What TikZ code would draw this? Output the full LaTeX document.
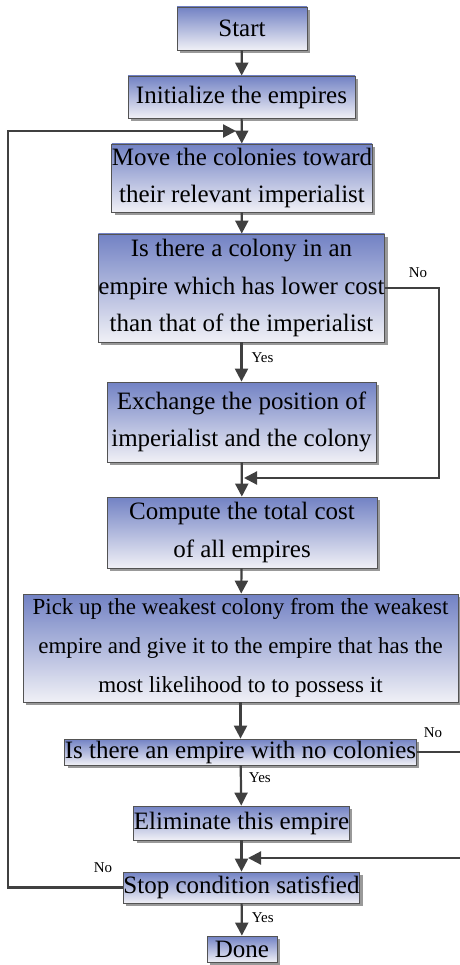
\documentclass[tikz,border=0pt]{standalone}
\usepackage{fontspec}
\setmainfont{Liberation Serif}
\usetikzlibrary{arrows.meta,shadows}
\definecolor{boxtop}{HTML}{7282C4}
\definecolor{boxbot}{HTML}{F0F0F6}
\definecolor{linegray}{HTML}{404040}
\begin{document}
\begin{tikzpicture}[x=1pt,y=-1pt,
  stepbox/.style={draw=linegray!90, line width=0.8pt, top color=boxtop, bottom color=boxbot,
    drop shadow={shadow xshift=3pt, shadow yshift=-3pt, fill=black!40, opacity=1},
    align=center, inner sep=0pt, font={\fontsize{25}{37.5}\selectfont}},
  arr/.style={draw=linegray, line width=2.2pt, -{Triangle[length=13pt,width=13pt]}},
  lbl/.style={font={\fontsize{15}{18}\selectfont}, inner sep=1pt}]
\useasboundingbox (0,0) rectangle (459,965);
%\fill [gray!15] (0,0) rectangle (459,965);
\node[stepbox, minimum width=130, minimum height=43] (start) at (242,28.5) {Start};
\node[stepbox, minimum width=227, minimum height=42] (init) at (241.5,97) {Initialize the empires};
\node[stepbox, minimum width=254, minimum height=68] (move) at (242,178) {Move the colonies toward\\their relevant imperialist};
\node[stepbox, minimum width=269, minimum height=108] (colony) at (241.5,288) {Is there a colony in an\\empire which has lower cost\\ than that of the imperialist};
\node[stepbox, minimum width=269, minimum height=80] (exchange) at (241.5,422) {Exchange the position of\\imperialist and the colony};
\node[stepbox, minimum width=270, minimum height=71] (compute) at (242,532.5) {Compute the total cost\\of all empires};
\node[stepbox, minimum width=435, minimum height=108, font={\fontsize{23}{39}\selectfont}] (pick) at (240.5,648) {Pick up the weakest colony from the weakest\\empire and give it to the empire that has the\\most likelihood to to possess it};
\node[stepbox, minimum width=335, minimum height=26] (noempire) at (240.5,752) {Is there an empire with no colonies};
\node[stepbox, minimum width=211, minimum height=34] (elim) at (241.5,823) {Eliminate this empire};
\node[stepbox, minimum width=227, minimum height=31] (stop) at (241.5,887.5) {Stop condition satisfied};
\node[stepbox, minimum width=70, minimum height=26] (done) at (242,949) {Done};

\coordinate (joinA) at (236,131);
\coordinate (joinB) at (244,478);
\coordinate (joinC) at (248,858);
\coordinate (leftx) at (8,500);
\coordinate (rightA) at (439,400);
\coordinate (rightB) at (463,800);

\draw[arr] (start) -- (init);
\draw[arr] (init) -- (move);
\draw[arr] (move) -- (colony);
\draw[arr] (colony) -- node[lbl, right=8pt, pos=0.4] (yesA) {Yes} (exchange);
\draw[arr] (exchange) -- (compute);
\draw[arr] (compute) -- (pick);
\draw[arr] (pick) -- (noempire);
\draw[arr] (noempire) -- node[lbl, right=6pt, pos=0.3] (yesB) {Yes} (elim);
\draw[arr] (elim) -- (stop);
\draw[arr] (stop) -- node[lbl, right=8pt, pos=0.45] (yesC) {Yes} (done);

\draw[arr] (colony.east) -| (rightA) |- (joinB);
\draw[arr] (noempire.east) -| (rightB) |- (joinC);
\draw[arr] (stop.west) -| (leftx) |- (joinA);
\node[lbl] (noA) at (418,273) {No};
\node[lbl] (noB) at (433,733) {No};
\node[lbl] (noC) at (103,868) {No};

\end{tikzpicture}
\end{document}
